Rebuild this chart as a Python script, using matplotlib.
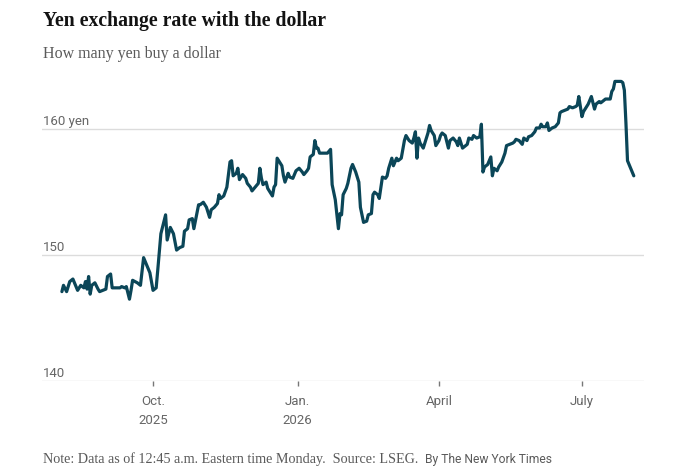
import matplotlib
matplotlib.use("Agg")
from matplotlib import pyplot as plt
import pandas as pd

# daily close (yen per dollar)
dates = [
    "2025-08-04", "2025-08-05", "2025-08-07", "2025-08-09", "2025-08-11", "2025-08-13", "2025-08-14",
    "2025-08-16", "2025-08-18", "2025-08-19", "2025-08-20", "2025-08-21", "2025-08-22", "2025-08-23",
    "2025-08-25", "2025-08-27", "2025-08-28", "2025-08-30", "2025-09-01", "2025-09-02", "2025-09-04",
    "2025-09-05", "2025-09-07", "2025-09-08", "2025-09-10", "2025-09-11", "2025-09-13", "2025-09-14",
    "2025-09-16", "2025-09-17", "2025-09-18", "2025-09-21", "2025-09-23", "2025-09-25", "2025-09-27",
    "2025-09-29", "2025-10-01", "2025-10-03", "2025-10-04", "2025-10-06", "2025-10-09", "2025-10-10",
    "2025-10-12", "2025-10-14", "2025-10-16", "2025-10-18", "2025-10-20", "2025-10-21", "2025-10-23",
    "2025-10-24", "2025-10-26", "2025-10-27", "2025-10-30", "2025-10-31", "2025-11-02", "2025-11-04",
    "2025-11-06", "2025-11-07", "2025-11-09", "2025-11-11", "2025-11-12", "2025-11-13", "2025-11-15",
    "2025-11-17", "2025-11-19", "2025-11-20", "2025-11-21", "2025-11-23", "2025-11-24", "2025-11-25",
    "2025-11-27", "2025-11-29", "2025-11-30", "2025-12-02", "2025-12-03", "2025-12-05", "2025-12-07",
    "2025-12-08", "2025-12-09", "2025-12-10", "2025-12-12", "2025-12-13", "2025-12-16", "2025-12-17",
    "2025-12-18", "2025-12-19", "2025-12-20", "2025-12-22", "2025-12-23", "2025-12-24", "2025-12-26",
    "2025-12-27", "2025-12-29", "2025-12-31", "2026-01-02", "2026-01-04", "2026-01-05", "2026-01-07",
    "2026-01-08", "2026-01-09", "2026-01-11", "2026-01-12", "2026-01-13", "2026-01-14", "2026-01-15",
    "2026-01-17", "2026-01-20", "2026-01-22", "2026-01-23", "2026-01-25", "2026-01-27", "2026-01-28",
    "2026-01-29", "2026-01-30", "2026-02-01", "2026-02-02", "2026-02-04", "2026-02-05", "2026-02-07",
    "2026-02-09", "2026-02-10", "2026-02-12", "2026-02-14", "2026-02-15", "2026-02-17", "2026-02-18",
    "2026-02-19", "2026-02-21", "2026-02-22", "2026-02-24", "2026-02-26", "2026-02-27", "2026-02-28",
    "2026-03-02", "2026-03-03", "2026-03-05", "2026-03-06", "2026-03-08", "2026-03-10", "2026-03-11",
    "2026-03-13", "2026-03-15", "2026-03-16", "2026-03-17", "2026-03-18", "2026-03-19", "2026-03-20",
    "2026-03-22", "2026-03-23", "2026-03-25", "2026-03-26", "2026-03-27", "2026-03-29", "2026-03-30",
    "2026-04-01", "2026-04-02", "2026-04-03", "2026-04-05", "2026-04-07", "2026-04-08", "2026-04-10",
    "2026-04-12", "2026-04-13", "2026-04-14", "2026-04-16", "2026-04-17", "2026-04-19", "2026-04-20",
    "2026-04-22", "2026-04-23", "2026-04-25", "2026-04-27", "2026-04-28", "2026-04-29", "2026-04-30",
    "2026-05-02", "2026-05-04", "2026-05-05", "2026-05-06", "2026-05-08", "2026-05-09", "2026-05-11",
    "2026-05-13", "2026-05-14", "2026-05-16", "2026-05-18", "2026-05-19", "2026-05-20", "2026-05-22",
    "2026-05-24", "2026-05-25", "2026-05-27", "2026-05-28", "2026-05-30", "2026-06-01", "2026-06-02",
    "2026-06-04", "2026-06-05", "2026-06-06", "2026-06-08", "2026-06-09", "2026-06-10", "2026-06-12",
    "2026-06-14", "2026-06-16", "2026-06-17", "2026-06-18", "2026-06-20", "2026-06-22", "2026-06-23",
    "2026-06-25", "2026-06-27", "2026-06-28", "2026-06-29", "2026-07-01", "2026-07-02", "2026-07-04",
    "2026-07-05", "2026-07-07", "2026-07-08", "2026-07-09", "2026-07-10", "2026-07-12", "2026-07-13",
    "2026-07-15", "2026-07-16", "2026-07-18", "2026-07-19", "2026-07-20", "2026-07-21", "2026-07-22",
    "2026-07-24", "2026-07-26", "2026-07-27", "2026-07-28", "2026-07-29", "2026-07-30", "2026-08-03",
]
yen = [
    147.1, 147.6, 147.1, 147.9, 148.1, 147.5, 147.2,
    147.6, 147.4, 147.9, 147.3, 148.3, 146.9, 147.6,
    147.8, 147.3, 147.1, 147.2, 147.3, 148.3, 148.5,
    147.4, 147.4, 147.4, 147.4, 147.5, 147.4, 147.5,
    146.5, 147.2, 148.0, 147.8, 147.6, 149.8, 149.2,
    148.6, 147.2, 147.4, 148.8, 151.7, 153.2, 151.2,
    152.2, 151.7, 150.4, 150.6, 150.7, 151.9, 152.1,
    152.8, 152.9, 152.1, 154.0, 154.0, 154.2, 153.8,
    153.0, 153.6, 153.8, 154.1, 154.8, 154.5, 154.7,
    155.4, 157.4, 157.5, 156.3, 156.5, 156.9, 156.0,
    156.4, 156.1, 155.7, 155.4, 155.1, 155.4, 155.7,
    156.9, 156.1, 155.6, 155.8, 155.3, 154.7, 155.4,
    155.6, 157.7, 157.5, 157.1, 156.3, 155.8, 156.5,
    156.2, 156.1, 156.7, 156.9, 156.6, 156.4, 156.7,
    156.9, 157.8, 158.0, 159.1, 158.5, 158.5, 158.1,
    158.1, 158.1, 158.4, 155.6, 154.4, 152.1, 153.3,
    153.2, 154.8, 155.3, 155.7, 156.9, 157.2, 156.6,
    155.8, 153.8, 152.6, 152.7, 153.2, 153.3, 154.8,
    155.0, 154.8, 154.5, 156.2, 156.1, 156.3, 156.9,
    157.7, 157.1, 157.7, 157.5, 157.7, 159.1, 159.5,
    159.1, 158.9, 159.3, 159.8, 157.7, 159.3, 158.9,
    158.5, 158.9, 159.7, 160.3, 159.9, 159.5, 158.7,
    159.1, 159.5, 159.7, 159.5, 158.5, 159.1, 159.3,
    159.0, 158.7, 159.3, 158.5, 158.6, 158.8, 159.3,
    159.2, 159.5, 159.3, 159.4, 160.4, 156.6, 157.0,
    157.2, 157.8, 156.3, 156.9, 156.7, 157.0, 157.4,
    158.1, 158.7, 158.8, 158.9, 159.0, 159.2, 159.1,
    158.8, 159.3, 159.1, 159.4, 159.5, 159.8, 160.1,
    160.1, 160.4, 160.2, 160.2, 160.5, 159.9, 160.1,
    160.2, 160.5, 161.3, 161.4, 161.5, 161.6, 161.8,
    161.7, 161.8, 161.9, 162.6, 161.0, 161.4, 161.8,
    162.0, 162.6, 162.1, 161.6, 162.0, 162.2, 162.1,
    162.3, 162.4, 162.4, 162.4, 163.0, 163.2, 163.8,
    163.8, 163.8, 163.7, 163.1, 160.5, 157.5, 156.3,
]

tick_dates = ["2025-10-01", "2026-01-01", "2026-04-01", "2026-07-01"]
tick_labels = ["Oct.\n2025", "Jan.\n2026", "April", "July"]
y_ticks = [140, 150, 160]
y_labels = ["140", "150", "160 yen"]

title = "Yen exchange rate with the dollar"
subtitle = "How many yen buy a dollar"
note = "Note: Data as of 12:45 a.m. Eastern time Monday.  Source: LSEG."
credit = "By The New York Times"

line_color = "#0b4658"
grid_color = "#dcdcdc"
label_color = "#666666"
sans = ["Roboto", "DejaVu Sans"]
serif = ["Liberation Serif", "DejaVu Serif"]

x = pd.to_datetime(dates)

fig = plt.figure(figsize=(6.9, 4.72), dpi=100)
ax = fig.add_axes([42 / 690, 1 - 381 / 472, 602 / 690, 321 / 472])

for y, lab in zip(y_ticks, y_labels):
    ax.axhline(y, color=grid_color, lw=1, zorder=0)
    ax.annotate(lab, xy=(0, y), xycoords=("axes fraction", "data"),
                xytext=(1, 2.9), textcoords="offset points", ha="left", va="baseline",
                fontsize=9.5, color=label_color, family=sans)

ax.plot(x, yen, color=line_color, lw=2.3, solid_joinstyle="round", solid_capstyle="round", zorder=3)

ax.set_xlim(pd.Timestamp("2025-07-22 08:00"), pd.Timestamp("2026-08-09 12:00"))
ax.set_ylim(140, 165.5)
ax.set_yticks([])
ax.set_xticks(pd.to_datetime(tick_dates))
ax.set_xticklabels(tick_labels, fontsize=9.5, color=label_color, family=sans, linespacing=1.6)
ax.tick_params(axis="x", length=3.8, width=1, color="#777777", pad=6)
for s in ax.spines.values():
    s.set_visible(False)

fig.text(43 / 690, 1 - 11 / 472, title, ha="left", va="top", fontsize=14.2,
         fontweight="bold", family=serif, color="#121212")
fig.text(43 / 690, 1 - 46 / 472, subtitle, ha="left", va="top", fontsize=11.5,
         family=serif, color="#5a5a5a")
nt = fig.text(43 / 690, 1 - 463 / 472, note, ha="left", va="baseline", fontsize=10.2,
              family=serif, color="#5a5a5a")
fig.canvas.draw()
ax.annotate(credit, xy=(1, 0), xycoords=nt, xytext=(5, 0), textcoords="offset points",
            ha="left", va="bottom", fontsize=8.7, family=sans, color="#5a5a5a",
            annotation_clip=False)

fig.savefig("out.png", dpi=100)
